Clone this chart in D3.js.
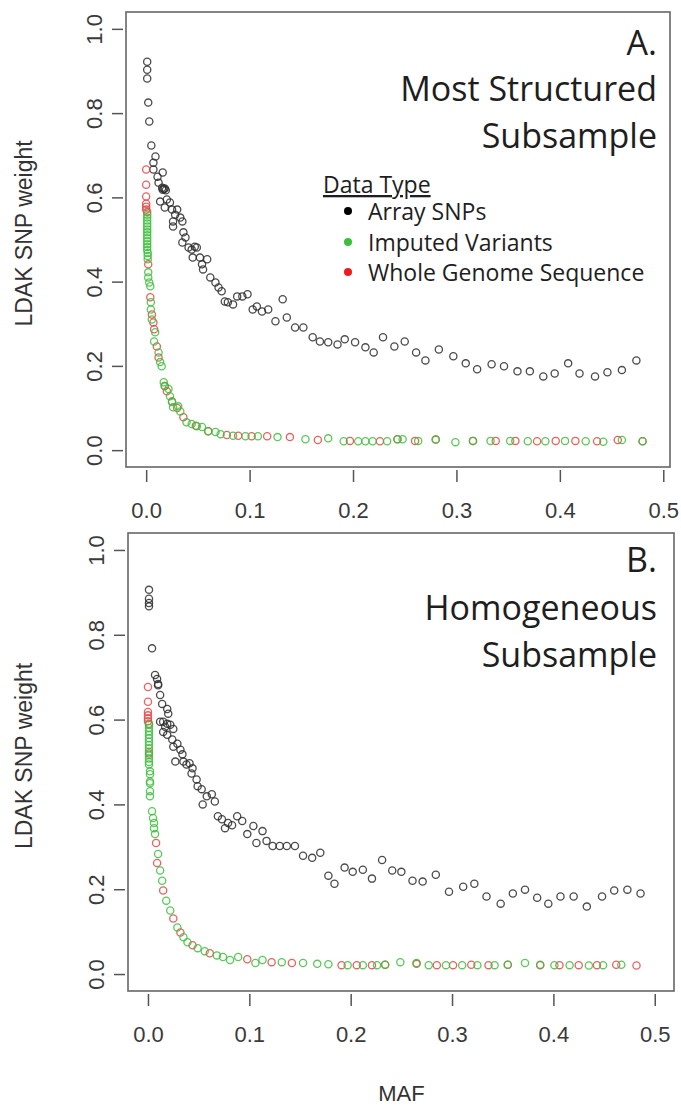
<!DOCTYPE html>
<html>
<head>
<meta charset="utf-8">
<script src="https://cdn.jsdelivr.net/npm/d3@7"></script>
<style>
  html, body { margin: 0; padding: 0; background: #fff; }
  svg { display: block; }
</style>
</head>
<body>
<svg id="chart" width="681" height="1106"></svg>
<script>
// ---------------- DATA ----------------
const xTicks = [0, 0.1, 0.2, 0.3, 0.4, 0.5];
const yTicks = [0, 0.2, 0.4, 0.6, 0.8, 1.0];
const xLabel = "MAF";
const yLabel = "LDAK SNP weight";
const seriesNames = ["Array SNPs", "Imputed Variants", "Whole Genome Sequence"];
const legendTitle = "Data Type";
const titleA = ["A.", "Most Structured", "Subsample"];
const titleB = ["B.", "Homogeneous", "Subsample"];

// Panel A: [MAF, weight]
const A_array = [[0.001,0.922],[0.001,0.903],[0.001,0.882],[0.002,0.825],[0.003,0.780],[0.005,0.723],[0.009,0.697],[0.007,0.682],[0.007,0.666],[0.016,0.659],[0.011,0.649],[0.012,0.635],[0.0155,0.623],[0.016,0.618],[0.018,0.621],[0.017,0.620],[0.019,0.617],[0.0135,0.590],[0.020,0.595],[0.023,0.588],[0.018,0.576],[0.025,0.571],[0.030,0.571],[0.028,0.559],[0.033,0.552],[0.026,0.543],[0.035,0.543],[0.026,0.531],[0.036,0.517],[0.038,0.505],[0.035,0.493],[0.041,0.481],[0.044,0.476],[0.049,0.481],[0.047,0.483],[0.045,0.457],[0.052,0.457],[0.059,0.453],[0.054,0.441],[0.055,0.429],[0.062,0.410],[0.067,0.398],[0.070,0.386],[0.073,0.377],[0.076,0.353],[0.079,0.351],[0.084,0.346],[0.088,0.365],[0.093,0.365],[0.098,0.370],[0.103,0.334],[0.107,0.341],[0.112,0.329],[0.118,0.334],[0.132,0.358],[0.125,0.306],[0.136,0.315],[0.144,0.291],[0.152,0.291],[0.161,0.268],[0.168,0.258],[0.176,0.256],[0.185,0.251],[0.192,0.263],[0.202,0.256],[0.212,0.244],[0.220,0.232],[0.229,0.268],[0.240,0.246],[0.250,0.258],[0.261,0.232],[0.270,0.213],[0.283,0.239],[0.297,0.223],[0.309,0.206],[0.320,0.192],[0.334,0.204],[0.346,0.199],[0.359,0.187],[0.371,0.187],[0.384,0.175],[0.395,0.182],[0.408,0.206],[0.419,0.182],[0.434,0.175],[0.446,0.185],[0.460,0.190],[0.474,0.213]];
const A_wgs = [[0.000,0.666],[0.000,0.630],[0.000,0.602],[0.000,0.585],[0.000,0.578],[0.000,0.571],[0.001,0.565],[0.002,0.441],[0.004,0.363],[0.0055,0.322],[0.007,0.303],[0.0077,0.287],[0.0103,0.246],[0.012,0.220],[0.018,0.152],[0.020,0.140],[0.025,0.116],[0.030,0.100],[0.036,0.078],[0.048,0.058],[0.060,0.045],[0.078,0.036],[0.089,0.034],[0.102,0.033],[0.117,0.033],[0.139,0.031],[0.166,0.024],[0.197,0.022],[0.226,0.021],[0.243,0.026],[0.260,0.022],[0.280,0.025],[0.316,0.022],[0.338,0.022],[0.357,0.022],[0.378,0.021],[0.396,0.022],[0.415,0.022],[0.436,0.021],[0.456,0.024],[0.480,0.021]];
const A_imputed = [[0.001,0.559],[0.001,0.552],[0.001,0.545],[0.001,0.538],[0.001,0.531],[0.001,0.524],[0.001,0.517],[0.001,0.510],[0.001,0.503],[0.001,0.496],[0.001,0.489],[0.001,0.482],[0.001,0.475],[0.0015,0.468],[0.0015,0.461],[0.0015,0.453],[0.002,0.422],[0.002,0.410],[0.003,0.398],[0.004,0.389],[0.0045,0.351],[0.0045,0.334],[0.0055,0.310],[0.0087,0.280],[0.0077,0.258],[0.012,0.232],[0.0135,0.209],[0.015,0.199],[0.017,0.161],[0.018,0.152],[0.0216,0.145],[0.023,0.128],[0.025,0.114],[0.026,0.102],[0.031,0.104],[0.033,0.092],[0.039,0.066],[0.044,0.062],[0.049,0.057],[0.054,0.055],[0.060,0.045],[0.067,0.043],[0.072,0.038],[0.084,0.034],[0.096,0.033],[0.108,0.033],[0.127,0.031],[0.154,0.026],[0.176,0.028],[0.191,0.021],[0.205,0.021],[0.212,0.021],[0.219,0.021],[0.233,0.021],[0.243,0.026],[0.248,0.026],[0.263,0.022],[0.280,0.025],[0.299,0.019],[0.316,0.022],[0.333,0.022],[0.352,0.022],[0.369,0.021],[0.386,0.021],[0.405,0.022],[0.425,0.021],[0.442,0.020],[0.460,0.024],[0.480,0.021]];

// Panel B: [MAF, weight]
const B_array = [[0.001,0.906],[0.001,0.885],[0.001,0.875],[0.001,0.867],[0.004,0.768],[0.007,0.705],[0.009,0.696],[0.010,0.684],[0.010,0.681],[0.012,0.658],[0.014,0.637],[0.019,0.625],[0.020,0.614],[0.012,0.595],[0.015,0.595],[0.019,0.590],[0.022,0.588],[0.017,0.583],[0.025,0.578],[0.015,0.571],[0.019,0.564],[0.024,0.553],[0.029,0.543],[0.025,0.536],[0.032,0.529],[0.034,0.518],[0.027,0.501],[0.035,0.501],[0.038,0.494],[0.041,0.497],[0.044,0.485],[0.043,0.473],[0.048,0.459],[0.049,0.443],[0.053,0.436],[0.058,0.419],[0.063,0.424],[0.066,0.407],[0.054,0.400],[0.069,0.372],[0.073,0.365],[0.079,0.356],[0.076,0.344],[0.083,0.351],[0.088,0.372],[0.093,0.361],[0.098,0.330],[0.104,0.349],[0.107,0.309],[0.113,0.337],[0.117,0.314],[0.123,0.302],[0.130,0.302],[0.137,0.302],[0.145,0.302],[0.153,0.279],[0.162,0.274],[0.170,0.286],[0.178,0.232],[0.184,0.213],[0.194,0.251],[0.202,0.241],[0.212,0.246],[0.221,0.225],[0.231,0.269],[0.241,0.244],[0.250,0.241],[0.261,0.220],[0.271,0.218],[0.284,0.234],[0.297,0.194],[0.311,0.206],[0.322,0.213],[0.334,0.183],[0.348,0.166],[0.360,0.190],[0.372,0.199],[0.384,0.180],[0.395,0.166],[0.407,0.183],[0.420,0.183],[0.433,0.159],[0.448,0.183],[0.460,0.197],[0.473,0.199],[0.486,0.190]];
const B_wgs = [[0.000,0.677],[0.000,0.642],[0.000,0.618],[0.000,0.610],[0.000,0.603],[0.000,0.596],[0.001,0.590],[0.001,0.520],[0.008,0.309],[0.009,0.262],[0.015,0.197],[0.025,0.131],[0.032,0.098],[0.044,0.068],[0.061,0.049],[0.098,0.035],[0.122,0.028],[0.142,0.026],[0.191,0.021],[0.206,0.021],[0.221,0.021],[0.234,0.022],[0.265,0.024],[0.285,0.021],[0.301,0.021],[0.319,0.022],[0.336,0.021],[0.355,0.022],[0.387,0.021],[0.406,0.021],[0.425,0.021],[0.443,0.021],[0.462,0.022],[0.482,0.020]];
const B_imputed = [[0.001,0.588],[0.001,0.580],[0.001,0.572],[0.001,0.564],[0.001,0.556],[0.001,0.548],[0.001,0.540],[0.001,0.532],[0.001,0.524],[0.001,0.516],[0.001,0.508],[0.001,0.500],[0.001,0.494],[0.002,0.478],[0.002,0.471],[0.002,0.454],[0.002,0.450],[0.002,0.431],[0.002,0.419],[0.004,0.384],[0.005,0.368],[0.006,0.356],[0.006,0.344],[0.007,0.330],[0.010,0.283],[0.012,0.244],[0.014,0.220],[0.018,0.173],[0.022,0.150],[0.029,0.110],[0.035,0.087],[0.039,0.075],[0.049,0.061],[0.056,0.054],[0.068,0.044],[0.074,0.040],[0.081,0.033],[0.089,0.040],[0.106,0.026],[0.113,0.033],[0.132,0.028],[0.153,0.026],[0.167,0.024],[0.178,0.023],[0.197,0.021],[0.212,0.021],[0.226,0.021],[0.234,0.022],[0.249,0.028],[0.265,0.026],[0.277,0.021],[0.294,0.021],[0.310,0.021],[0.325,0.021],[0.342,0.021],[0.355,0.022],[0.372,0.026],[0.387,0.022],[0.401,0.021],[0.416,0.021],[0.435,0.020],[0.449,0.021],[0.467,0.022]];

// ---------------- DRAW ----------------
const colors = { array: "#2b2b2b", imputed: "#3cbf3c", wgs: "#e84545" };
const legendColors = ["#000000", "#3cbf3c", "#ee1c1c"];
const axisFont = "'Liberation Sans', Arial, sans-serif";
const textFont = "'Open Sans', sans-serif";

const svg = d3.select("#chart");

const panels = [
  { box: [126, 12, 670, 467], xDom: [-0.0195, 0.5065], yDom: [-0.04, 1.04],
    array: A_array, imputed: A_imputed, wgs: A_wgs, title: titleA, titleY: [55, 101, 148], legend: true, xLabel: false },
  { box: [128, 533, 674, 991], xDom: [-0.0197, 0.519], yDom: [-0.04, 1.04],
    array: B_array, imputed: B_imputed, wgs: B_wgs, title: titleB, titleY: [572, 620, 667], legend: false, xLabel: true }
];

panels.forEach(p => {
  const [x0, y0, x1, y1] = p.box;
  const x = d3.scaleLinear().domain(p.xDom).range([x0, x1]);
  const y = d3.scaleLinear().domain(p.yDom).range([y1, y0]);
  const g = svg.append("g");

  const xAxis = d3.axisBottom(x).tickValues(xTicks).tickFormat(d3.format(".1f")).tickSize(12).tickPadding(20);
  const gx = g.append("g").attr("transform", `translate(0,${y1 + 3})`).call(xAxis);
  gx.select(".domain").remove();
  gx.selectAll(".tick line").attr("stroke", "#555").attr("stroke-width", 1.5);
  gx.selectAll(".tick text").attr("font-family", axisFont).attr("font-size", 22).attr("fill", "#3a3a3a");

  const yAxis = d3.axisLeft(y).tickValues(yTicks).tickFormat(d3.format(".1f")).tickSize(11).tickPadding(0);
  const gy = g.append("g").attr("transform", `translate(${x0 - 3},0)`).call(yAxis);
  gy.select(".domain").remove();
  gy.selectAll(".tick line").attr("stroke", "#555").attr("stroke-width", 1.5);
  gy.selectAll(".tick text").attr("font-family", axisFont).attr("font-size", 22).attr("fill", "#3a3a3a")
    .attr("x", null).attr("dy", null)
    .attr("text-anchor", "middle")
    .attr("transform", "translate(-21,0) rotate(-90)");

  const yc = (y0 + y1) / 2 - 6;
  g.append("text").attr("transform", `translate(32,${yc}) rotate(-90)`)
    .attr("text-anchor", "middle").attr("font-family", axisFont).attr("font-size", 23)
    .attr("fill", "#333").text(yLabel);

  const drawSeries = (data, col) => {
    g.append("g").selectAll("circle").data(data).join("circle")
      .attr("cx", d => x(d[0])).attr("cy", d => y(d[1])).attr("r", 3.6)
      .attr("fill", "none").attr("stroke", col).attr("stroke-width", 1.3).attr("stroke-opacity", 0.85);
  };
  drawSeries(p.array, colors.array);
  drawSeries(p.wgs, colors.wgs);
  drawSeries(p.imputed, colors.imputed);

  g.append("rect").attr("x", x0).attr("y", y0).attr("width", x1 - x0).attr("height", y1 - y0)
    .attr("fill", "none").attr("stroke", "#666").attr("stroke-width", 1.6);

  p.title.forEach((t, i) => {
    g.append("text").attr("x", 657).attr("y", p.titleY[i]).attr("text-anchor", "end")
      .attr("font-family", textFont).attr("font-size", 34).attr("fill", "#1e1e1e").text(t);
  });

  if (p.legend) {
    const lg = g.append("g");
    lg.append("text").attr("x", 323).attr("y", 193).attr("font-family", textFont).attr("font-size", 23)
      .attr("fill", "#1e1e1e").attr("text-decoration", "underline").text(legendTitle);
    const baselines = [220, 251, 281];
    seriesNames.forEach((n, i) => {
      lg.append("circle").attr("cx", 348).attr("cy", baselines[i] - 9).attr("r", 4).attr("fill", legendColors[i]);
      lg.append("text").attr("x", 368).attr("y", baselines[i]).attr("font-family", textFont).attr("font-size", 23)
        .attr("fill", "#1e1e1e").text(n);
    });
  }

  if (p.xLabel) {
    g.append("text").attr("x", (x(0) + x(0.5)) / 2).attr("y", 1101).attr("text-anchor", "middle")
      .attr("font-family", axisFont).attr("font-size", 22).attr("fill", "#333").text(xLabel);
  }
});
</script>
</body>
</html>
